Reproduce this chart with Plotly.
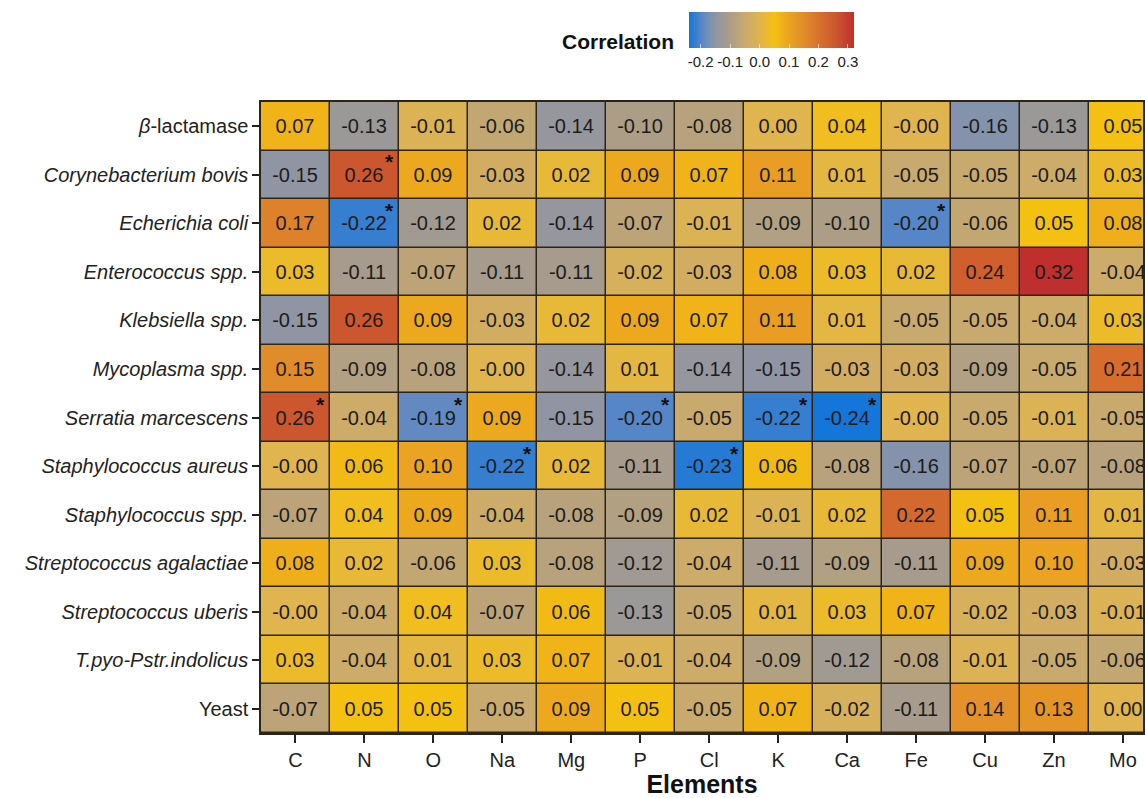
import plotly.graph_objects as go

elements = ["C", "N", "O", "Na", "Mg", "P", "Cl", "K", "Ca", "Fe", "Cu", "Zn", "Mo"]
organisms = [
    "<i>β</i>-lactamase",
    "<i>Corynebacterium bovis</i>",
    "<i>Echerichia coli</i>",
    "<i>Enterococcus spp.</i>",
    "<i>Klebsiella spp.</i>",
    "<i>Mycoplasma spp.</i>",
    "<i>Serratia marcescens</i>",
    "<i>Staphylococcus aureus</i>",
    "<i>Staphylococcus spp.</i>",
    "<i>Streptococcus agalactiae</i>",
    "<i>Streptococcus uberis</i>",
    "<i>T.pyo-Pstr.indolicus</i>",
    "Yeast",
]

labels = [
    ["0.07", "-0.13", "-0.01", "-0.06", "-0.14", "-0.10", "-0.08", "0.00", "0.04", "-0.00", "-0.16", "-0.13", "0.05"],
    ["-0.15", "0.26", "0.09", "-0.03", "0.02", "0.09", "0.07", "0.11", "0.01", "-0.05", "-0.05", "-0.04", "0.03"],
    ["0.17", "-0.22", "-0.12", "0.02", "-0.14", "-0.07", "-0.01", "-0.09", "-0.10", "-0.20", "-0.06", "0.05", "0.08"],
    ["0.03", "-0.11", "-0.07", "-0.11", "-0.11", "-0.02", "-0.03", "0.08", "0.03", "0.02", "0.24", "0.32", "-0.04"],
    ["-0.15", "0.26", "0.09", "-0.03", "0.02", "0.09", "0.07", "0.11", "0.01", "-0.05", "-0.05", "-0.04", "0.03"],
    ["0.15", "-0.09", "-0.08", "-0.00", "-0.14", "0.01", "-0.14", "-0.15", "-0.03", "-0.03", "-0.09", "-0.05", "0.21"],
    ["0.26", "-0.04", "-0.19", "0.09", "-0.15", "-0.20", "-0.05", "-0.22", "-0.24", "-0.00", "-0.05", "-0.01", "-0.05"],
    ["-0.00", "0.06", "0.10", "-0.22", "0.02", "-0.11", "-0.23", "0.06", "-0.08", "-0.16", "-0.07", "-0.07", "-0.08"],
    ["-0.07", "0.04", "0.09", "-0.04", "-0.08", "-0.09", "0.02", "-0.01", "0.02", "0.22", "0.05", "0.11", "0.01"],
    ["0.08", "0.02", "-0.06", "0.03", "-0.08", "-0.12", "-0.04", "-0.11", "-0.09", "-0.11", "0.09", "0.10", "-0.03"],
    ["-0.00", "-0.04", "0.04", "-0.07", "0.06", "-0.13", "-0.05", "0.01", "0.03", "0.07", "-0.02", "-0.03", "-0.01"],
    ["0.03", "-0.04", "0.01", "0.03", "0.07", "-0.01", "-0.04", "-0.09", "-0.12", "-0.08", "-0.01", "-0.05", "-0.06"],
    ["-0.07", "0.05", "0.05", "-0.05", "0.09", "0.05", "-0.05", "0.07", "-0.02", "-0.11", "0.14", "0.13", "0.00"],
]
values = [[float(s) for s in row] for row in labels]

# significant cells: (row index, column index)
significant = [(1, 1), (2, 1), (2, 9), (6, 0), (6, 2), (6, 5), (6, 7), (6, 8), (7, 3), (7, 6)]

zmin, zmax = -0.24, 0.32
stops = [(-0.24, "#1476d8"), (-0.20, "#5686c8"), (-0.15, "#9095a4"), (-0.11, "#a69b8c"),
         (-0.05, "#c8a96e"), (0.00, "#e0b44e"), (0.05, "#f4c012"), (0.10, "#eba321"),
         (0.15, "#e18c2a"), (0.20, "#d8722c"), (0.26, "#cc562e"), (0.32, "#be2f2e")]
colorscale = [[(v - zmin) / (zmax - zmin), c] for v, c in stops]

xs = list(range(len(elements)))
ys = list(range(len(organisms)))

W, H = 1145, 798
ML, MR, MT, MB = 261, 0, 0, 65
PW, PH = W - ML - MR, H - MT - MB
def px_x(p):
    return (p - ML) / PW
def px_y(p):
    return (H - MB - p) / PH

FONT = "Liberation Sans, Arial, sans-serif"

fig = go.Figure(go.Heatmap(
    z=values, x=xs, y=ys, text=labels, texttemplate="%{text}",
    textfont=dict(size=20, color="#1c1c1c", family=FONT),
    colorscale=colorscale, zmin=zmin, zmax=zmax, xgap=1.5, ygap=1.5,
    hoverinfo="skip",
    colorbar=dict(
        orientation="h", x=px_x(772.5), xanchor="center", y=px_y(12), yanchor="top",
        len=165 / PW, lenmode="fraction", thickness=36, outlinewidth=0,
        xpad=0, ypad=0,
        tickvals=[-0.2, -0.1, 0.0, 0.1, 0.2, 0.3],
        ticktext=["-0.2", "-0.1", "0.0", "0.1", "0.2", "0.3"],
        ticks="inside", ticklen=4, tickcolor="rgba(255,255,255,0.6)",
        tickfont=dict(size=15, color="#222222", family=FONT),
    ),
))

annotations = []
for r, c in significant:
    annotations.append(dict(x=xs[c], y=ys[r], xref="x", yref="y", text="<b>*</b>",
                            showarrow=False, xshift=25, yshift=13,
                            font=dict(size=21, color="#111111")))
annotations.append(dict(x=px_x(677), y=px_y(42), xref="paper", yref="paper",
                        text="<b>Correlation</b>", showarrow=False,
                        xanchor="right", yanchor="middle",
                        font=dict(size=21, color="#111111", family=FONT)))

fig.update_layout(
    width=W, height=H,
    margin=dict(l=ML, r=MR, t=MT, b=MB),
    paper_bgcolor="white", plot_bgcolor="#2b2417",
    font=dict(family=FONT, color="#222222"),
    annotations=annotations,
    xaxis=dict(
        tickvals=xs, ticktext=elements, range=[-0.5, 12.29],
        ticks="outside", ticklen=8, tickwidth=1.5, tickcolor="#222222",
        tickfont=dict(size=20, color="#222222", family=FONT),
        showgrid=False, zeroline=False,
        showline=True, linecolor="#2b2417", linewidth=1.5, mirror=True,
        title=dict(text="<b>Elements</b>", font=dict(size=25, color="#111111", family=FONT), standoff=0),
    ),
    yaxis=dict(
        tickvals=ys, ticktext=organisms, range=[12.5, -0.5],
        domain=[0, px_y(102)],
        ticks="outside", ticklen=7, tickwidth=1.5, tickcolor="#222222",
        tickfont=dict(size=20, color="#222222", family=FONT),
        showgrid=False, zeroline=False,
        showline=True, linecolor="#2b2417", linewidth=1.5, mirror=True,
    ),
)

fig.write_html("out.html")
